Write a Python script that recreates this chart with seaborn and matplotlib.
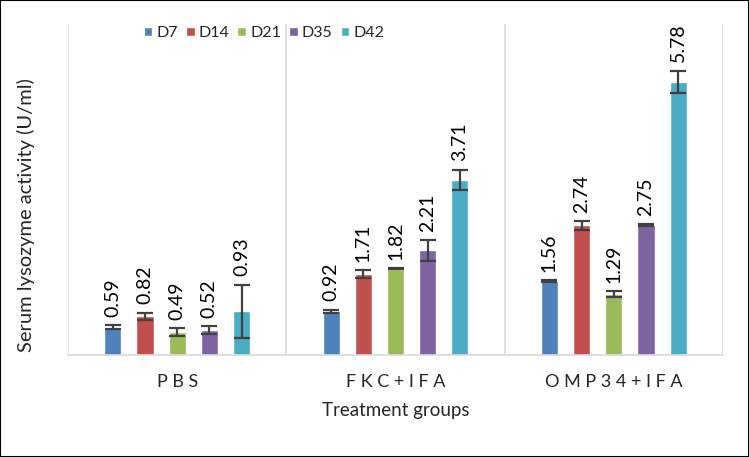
import pandas as pd
import matplotlib.pyplot as plt
import seaborn as sns

# data
groups = ['P B S', 'F K C + I F A', 'O M P 3 4 + I F A']
days = ['D7', 'D14', 'D21', 'D35', 'D42']
d7 = [0.59, 0.92, 1.56]
d14 = [0.82, 1.71, 2.74]
d21 = [0.49, 1.82, 1.29]
d35 = [0.52, 2.21, 2.75]
d42 = [0.93, 3.71, 5.78]
err_d7 = [0.04, 0.04, 0.02]
err_d14 = [0.075, 0.085, 0.09]
err_d21 = [0.08, 0.01, 0.065]
err_d35 = [0.085, 0.22, 0.02]
err_d42 = [0.56, 0.21, 0.23]

colors = ['#4F81BD', '#C0504D', '#9BBB59', '#8064A2', '#4BACC6']

values = [d7, d14, d21, d35, d42]
errors = [err_d7, err_d14, err_d21, err_d35, err_d42]

rows = []
for day, vals in zip(days, values):
    for g, v in zip(groups, vals):
        rows.append({'group': g, 'day': day, 'value': v})
df = pd.DataFrame(rows)

sns.set_style('white')
plt.rcParams['font.family'] = ['Lato', 'DejaVu Sans']

fig = plt.figure(figsize=(7.49, 4.57), dpi=100)
ax = fig.add_axes([68 / 749, 102 / 457, 655 / 749, 331 / 457])

sns.barplot(data=df, x='group', y='value', hue='day', palette=colors,
            width=0.737, gap=0.47, errorbar=None, ax=ax, saturation=1)

# error bars and value labels on each bar
for container, vals, errs in zip(ax.containers, values, errors):
    xs = [p.get_x() + p.get_width() / 2 for p in container.patches]
    ax.errorbar(xs, vals, yerr=errs, fmt='none', ecolor='#404040',
                elinewidth=1.6, capsize=5.5, capthick=1.6, zorder=3)
    for x, v, e in zip(xs, vals, errs):
        ax.annotate(f'{v:.2f}', (x, v + e), xytext=(0, 6),
                    textcoords='offset points', rotation=90,
                    ha='center', va='bottom', fontsize=14, color='black')

ax.set_xlim(-0.5, 2.5)
ax.set_ylim(0, 7)
ax.set_yticks([])
ax.set_ylabel('Serum lysozyme activity (U/ml)', fontsize=14.5)
ax.yaxis.set_label_coords((35 - 68) / 655, (355 - 215) / 331)
ax.set_xlabel('Treatment groups', fontsize=13.5, labelpad=8)
ax.tick_params(axis='x', length=0, labelsize=13, pad=14)

# category separators like the original
for xv in [-0.5, 0.5, 1.5, 2.5]:
    ax.axvline(xv, color='#D9D9D9', lw=1.2, zorder=0)
for s in ['top', 'right', 'left']:
    ax.spines[s].set_visible(False)
ax.spines['bottom'].set_color('#D9D9D9')
ax.spines['bottom'].set_linewidth(1.2)

handles, labels = ax.get_legend_handles_labels()
ax.legend(handles, labels, ncol=5, loc='center', frameon=False,
          bbox_to_anchor=(264 / 749, 1 - 33 / 457), bbox_transform=fig.transFigure,
          handlelength=0.55, handleheight=0.55, handletextpad=0.25,
          columnspacing=0.5, fontsize=11.5)

# thin frame around the whole picture
fig.patches.append(plt.Rectangle((0, 0), 1, 1, transform=fig.transFigure,
                                 fill=False, edgecolor='black', lw=1.5))

fig.savefig('out.png', dpi=100)
